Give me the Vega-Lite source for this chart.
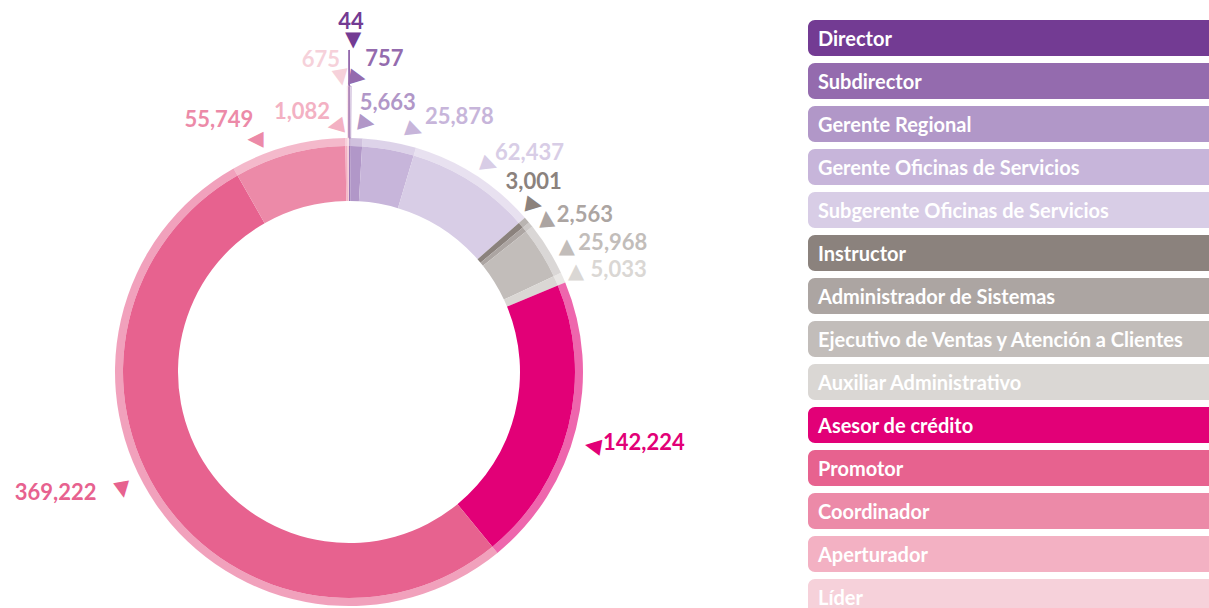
{
  "$schema": "https://vega.github.io/schema/vega-lite/v6.json",
  "padding": 0,
  "background": "white",
  "spacing": 110,
  "config": {"view": {"stroke": null}},
  "datasets": {
    "puestos": [
      {"puesto": "Director", "valor": 44, "orden": 1},
      {"puesto": "Subdirector", "valor": 757, "orden": 2},
      {"puesto": "Gerente Regional", "valor": 5663, "orden": 3},
      {"puesto": "Gerente Oficinas de Servicios", "valor": 25878, "orden": 4},
      {"puesto": "Subgerente Oficinas de Servicios", "valor": 62437, "orden": 5},
      {"puesto": "Instructor", "valor": 3001, "orden": 6},
      {"puesto": "Administrador de Sistemas", "valor": 2563, "orden": 7},
      {"puesto": "Ejecutivo de Ventas y Atención a Clientes", "valor": 25968, "orden": 8},
      {"puesto": "Auxiliar Administrativo", "valor": 5033, "orden": 9},
      {"puesto": "Asesor de crédito", "valor": 142224, "orden": 10},
      {"puesto": "Promotor", "valor": 369222, "orden": 11},
      {"puesto": "Coordinador", "valor": 55749, "orden": 12},
      {"puesto": "Aperturador", "valor": 1082, "orden": 13},
      {"puesto": "Líder", "valor": 675, "orden": 14}
    ]
  },
  "hconcat": [
    {
      "spacing": 0,
      "bounds": "flush",
      "vconcat": [
        {"width": 698, "height": 136, "data": {"values": []}, "mark": "point", "encoding": {}},
        {
          "width": 698,
          "height": 472,
          "data": {"name": "puestos"},
          "encoding": {
            "theta": {"field": "valor", "type": "quantitative", "stack": true},
            "order": {"field": "orden", "type": "quantitative"},
            "color": {
              "field": "puesto",
              "type": "nominal",
              "legend": null,
              "scale": {
                "domain": ["Director", "Subdirector", "Gerente Regional", "Gerente Oficinas de Servicios", "Subgerente Oficinas de Servicios", "Instructor", "Administrador de Sistemas", "Ejecutivo de Ventas y Atención a Clientes", "Auxiliar Administrativo", "Asesor de crédito", "Promotor", "Coordinador", "Aperturador", "Líder"],
                "range": ["#733B93", "#946BAE", "#B197C8", "#C7B5DA", "#D8CDE6", "#8B827D", "#ACA5A2", "#C2BDBA", "#DAD7D4", "#E20077", "#E7628F", "#EC8AA8", "#F3B1C3", "#F6D1DA"]
              }
            }
          },
          "layer": [
            {"mark": {"type": "arc", "radius": 234, "radius2": 226, "opacity": 0.6}},
            {"mark": {"type": "arc", "radius": 226, "radius2": 171}},
            {"mark": {"type": "arc", "filled": false, "radius": 322, "radius2": 234, "strokeWidth": 0.9, "strokeOpacity": {"expr": "datum.orden === 1 ? 1 : 0"}}},
            {"mark": {"type": "arc", "filled": false, "radius": 286, "radius2": 234, "strokeWidth": 0.6, "strokeOpacity": {"expr": "(datum.orden === 2 || datum.orden === 14) ? 1 : 0"}}},
            {
              "mark": {
                "type": "text",
                "text": "▲",
                "font": "DejaVu Sans",
                "fontSize": 21,
                "align": "center",
                "baseline": "middle",
                "radius": {"expr": "[330,293,248,248,248,248,248,248,248,248,248,248,248,293][datum.orden-1]"},
                "angle": {"expr": "[180,100,100,110,110,100,355,0,0,280,170,270,260,170][datum.orden-1]"},
                "dx": {"expr": "[4,8,10,23,7,-3,5,7,0,3,-22,-29,-11,-7][datum.orden-1]*cos([180,100,100,110,110,100,355,0,0,280,170,270,260,170][datum.orden-1]*PI/180) + [-1,-1,-1,3,2,-6,3,5,0,14,-22,7,2,-1][datum.orden-1]*sin([180,100,100,110,110,100,355,0,0,280,170,270,260,170][datum.orden-1]*PI/180)"},
                "dy": {"expr": "-[4,8,10,23,7,-3,5,7,0,3,-22,-29,-11,-7][datum.orden-1]*sin([180,100,100,110,110,100,355,0,0,280,170,270,260,170][datum.orden-1]*PI/180) + [-1,-1,-1,3,2,-6,3,5,0,14,-22,7,2,-1][datum.orden-1]*cos([180,100,100,110,110,100,355,0,0,280,170,270,260,170][datum.orden-1]*PI/180)"}
              }
            },
            {
              "mark": {
                "type": "text",
                "font": "Lato",
                "fontWeight": "bold",
                "fontSize": 22,
                "baseline": "middle",
                "radius": {"expr": "[350,312,265,265,265,265,265,265,265,265,265,265,265,312][datum.orden-1]"},
                "align": {"expr": "['center','left','left','left','left','left','left','left','left','left','right','right','right','right'][datum.orden-1]"},
                "dx": {"expr": "[2,15,2,30,3,-45,2,4,-1,-3,-34,-26,-16,-8][datum.orden-1]"},
                "dy": {"expr": "[0,-1,-4,6,4,-18,10,10,5,7,-29,4,5,0][datum.orden-1]"}
              },
              "encoding": {"text": {"field": "valor", "type": "quantitative", "format": ",d"}}
            }
          ]
        }
      ]
    },
    {
      "width": 401,
      "height": 608,
      "data": {"name": "puestos"},
      "encoding": {
        "y": {
          "field": "puesto",
          "type": "nominal",
          "sort": ["Director", "Subdirector", "Gerente Regional", "Gerente Oficinas de Servicios", "Subgerente Oficinas de Servicios", "Instructor", "Administrador de Sistemas", "Ejecutivo de Ventas y Atención a Clientes", "Auxiliar Administrativo", "Asesor de crédito", "Promotor", "Coordinador", "Aperturador", "Líder"],
          "scale": {"range": [20, 615], "paddingInner": 0.163, "paddingOuter": 0},
          "axis": null
        },
        "x": {"datum": 0, "type": "quantitative", "scale": {"domain": [0, 1]}, "axis": null}
      },
      "layer": [
        {
          "mark": {"type": "bar", "clip": true, "cornerRadiusTopLeft": 7, "cornerRadiusBottomLeft": 7},
          "encoding": {
            "x2": {"datum": 1},
            "color": {
              "field": "puesto",
              "type": "nominal",
              "legend": null,
              "scale": {
                "domain": ["Director", "Subdirector", "Gerente Regional", "Gerente Oficinas de Servicios", "Subgerente Oficinas de Servicios", "Instructor", "Administrador de Sistemas", "Ejecutivo de Ventas y Atención a Clientes", "Auxiliar Administrativo", "Asesor de crédito", "Promotor", "Coordinador", "Aperturador", "Líder"],
                "range": ["#733B93", "#946BAE", "#B197C8", "#C7B5DA", "#D8CDE6", "#8B827D", "#ACA5A2", "#C2BDBA", "#DAD7D4", "#E20077", "#E7628F", "#EC8AA8", "#F3B1C3", "#F6D1DA"]
              }
            }
          }
        },
        {
          "mark": {"type": "text", "clip": true, "align": "left", "baseline": "middle", "dx": 10, "dy": 2, "font": "Lato", "fontWeight": "bold", "fontSize": 20, "color": "white"},
          "encoding": {"text": {"field": "puesto", "type": "nominal"}}
        }
      ]
    }
  ]
}
